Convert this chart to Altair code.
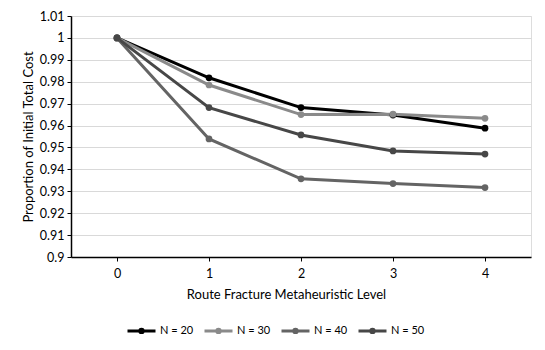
import altair as alt
import pandas as pd

levels = [0, 1, 2, 3, 4]
series_names = ["N = 20", "N = 30", "N = 40", "N = 50"]
n20 = [1.0, 0.9818, 0.9682, 0.9648, 0.9588]
n30 = [1.0, 0.9785, 0.9650, 0.9652, 0.9633]
n40 = [1.0, 0.9539, 0.9357, 0.9335, 0.9317]
n50 = [1.0, 0.9682, 0.9557, 0.9484, 0.9470]
colors = ["#000000", "#8a8a8a", "#646464", "#474747"]
y_ticks = [0.9, 0.91, 0.92, 0.93, 0.94, 0.95, 0.96, 0.97, 0.98, 0.99, 1.0, 1.01]

rows = []
for name, vals in zip(series_names, [n20, n30, n40, n50]):
    for lv, v in zip(levels, vals):
        rows.append({"level": str(lv), "value": v, "series": name})
df = pd.DataFrame(rows)

FONT = "Lato"
legend_symbol = "M-1,0L1,0M-0.12,0a0.12,0.12 0 1,0 0.24,0a0.12,0.12 0 1,0 -0.24,0Z"

color = alt.Color(
    "series:N",
    scale=alt.Scale(domain=series_names, range=colors),
    legend=alt.Legend(
        title=None,
        orient="none",
        direction="horizontal",
        legendX=55,
        legendY=299,
        symbolType=legend_symbol,
        symbolSize=784,
        symbolStrokeWidth=3,
        labelFont=FONT,
        labelFontSize=11,
        labelColor="#000000",
        labelOffset=3,
        columnPadding=4,
    ),
)

x = alt.X(
    "level:O",
    sort=[str(l) for l in levels],
    scale=alt.Scale(padding=0.5),
    axis=alt.Axis(
        title="Route Fracture Metaheuristic Level",
        titleX=215,
        labelAngle=0,
        grid=False,
        domainColor="#000000",
        domainWidth=1.5,
        tickColor="#000000",
        tickSize=4,
        labelPadding=6,
        titlePadding=9,
        labelFont=FONT,
        titleFont=FONT,
        labelFontSize=12.5,
        titleFontSize=13,
        titleFontWeight="normal",
        labelColor="#000000",
        titleColor="#000000",
    ),
)

y = alt.Y(
    "value:Q",
    scale=alt.Scale(domain=[0.9, 1.01], nice=False, zero=False),
    axis=alt.Axis(
        title="Proportion of Initial Total Cost",
        values=y_ticks,
        labelExpr="format(datum.value, '.2~f')",
        grid=True,
        gridColor="#d9d9d9",
        gridWidth=1,
        domainColor="#000000",
        domainWidth=1.5,
        tickColor="#000000",
        tickSize=4,
        labelPadding=3,
        titlePadding=4,
        labelFont=FONT,
        titleFont=FONT,
        labelFontSize=12.5,
        titleFontSize=13,
        titleFontWeight="normal",
        labelColor="#000000",
        titleColor="#000000",
    ),
)

base = alt.Chart(df)
lines = base.mark_line(strokeWidth=3).encode(x=x, y=y, color=color)
points = base.mark_point(filled=True, size=45, opacity=1).encode(
    x=x, y=y, color=alt.Color("series:N", scale=alt.Scale(domain=series_names, range=colors), legend=None)
)

chart = (
    alt.layer(lines, points)
    .properties(
        width=460,
        height=241,
        autosize=alt.AutoSizeParams(type="none"),
        padding={"left": 63, "top": 8, "right": 6, "bottom": 88},
    )
    .configure_view(stroke=None)
    .configure(background="#ffffff")
)

chart.save("out.html", embed_options={"renderer": "svg", "actions": False})
